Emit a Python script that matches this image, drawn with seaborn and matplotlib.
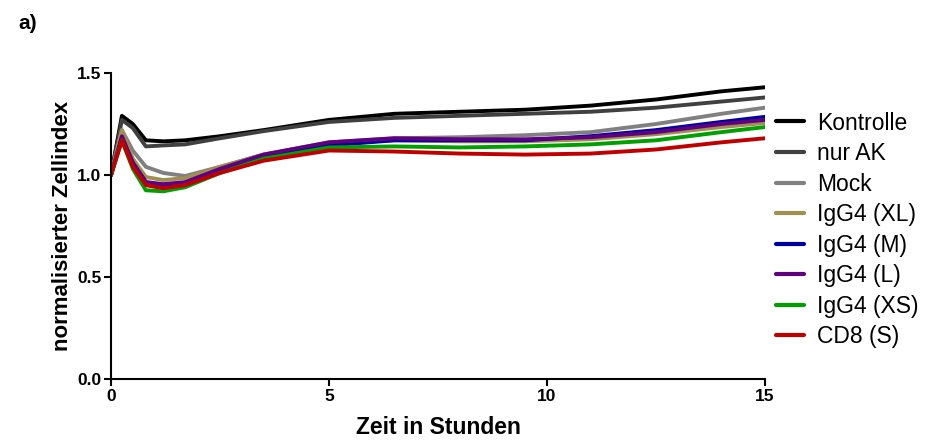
import numpy as np
import pandas as pd
import matplotlib
matplotlib.use("Agg")
import matplotlib.pyplot as plt
import seaborn as sns

time_h = [0, 0.25, 0.5, 0.8, 1.2, 1.7, 2.5, 3.5, 5, 6.5, 8, 9.5, 11, 12.5, 14, 15]

kontrolle = [1.0, 1.29, 1.25, 1.17, 1.165, 1.17, 1.19, 1.22, 1.27, 1.30, 1.31, 1.32, 1.34, 1.37, 1.41, 1.43]
nur_ak    = [1.0, 1.27, 1.23, 1.14, 1.145, 1.15, 1.18, 1.215, 1.26, 1.28, 1.29, 1.30, 1.31, 1.33, 1.36, 1.38]
mock      = [1.0, 1.22, 1.12, 1.04, 1.01, 0.995, 1.04, 1.10, 1.16, 1.18, 1.185, 1.195, 1.21, 1.25, 1.30, 1.33]
igg4_xl   = [1.0, 1.22, 1.08, 0.99, 0.975, 0.985, 1.04, 1.10, 1.155, 1.17, 1.165, 1.165, 1.175, 1.20, 1.235, 1.255]
igg4_m    = [1.0, 1.18, 1.06, 0.965, 0.95, 0.96, 1.02, 1.09, 1.145, 1.17, 1.17, 1.17, 1.19, 1.22, 1.26, 1.285]
igg4_l    = [1.0, 1.19, 1.06, 0.965, 0.955, 0.965, 1.03, 1.10, 1.16, 1.18, 1.175, 1.175, 1.185, 1.21, 1.25, 1.27]
igg4_xs   = [1.0, 1.17, 1.03, 0.925, 0.92, 0.94, 1.01, 1.08, 1.135, 1.14, 1.135, 1.14, 1.15, 1.17, 1.21, 1.235]
cd8_s     = [1.0, 1.17, 1.04, 0.95, 0.935, 0.95, 1.01, 1.07, 1.12, 1.115, 1.105, 1.10, 1.105, 1.125, 1.16, 1.18]

series_names = ["Kontrolle", "nur AK", "Mock", "IgG4 (XL)", "IgG4 (M)", "IgG4 (L)", "IgG4 (XS)", "CD8 (S)"]
series_values = [kontrolle, nur_ak, mock, igg4_xl, igg4_m, igg4_l, igg4_xs, cd8_s]
colors = ["#000000", "#404040", "#808080", "#A0904F", "#0000A0", "#600080", "#00A000", "#C00000"]

x_ticks = [0, 5, 10, 15]
y_ticks = [0.0, 0.5, 1.0, 1.5]

rows = []
for name, vals in zip(series_names, series_values):
    for t, v in zip(time_h, vals):
        rows.append({"Zeit": t, "Wert": v, "Gruppe": name})
df = pd.DataFrame(rows)

sns.set_style("ticks")
plt.rcParams["font.family"] = ["Liberation Sans", "DejaVu Sans"]
plt.rcParams["text.color"] = "black"
plt.rcParams["axes.labelcolor"] = "black"
plt.rcParams["xtick.color"] = "black"
plt.rcParams["ytick.color"] = "black"
plt.rcParams["axes.edgecolor"] = "black"

fig = plt.figure(figsize=(9.36, 4.45), dpi=100)
ax = fig.add_axes([0.1186, 0.1483, 0.6987, 0.6877])

sns.lineplot(data=df, x="Zeit", y="Wert", hue="Gruppe", hue_order=series_names,
             palette=dict(zip(series_names, colors)), linewidth=2.8, ax=ax, legend=True)

ax.set_xlim(0, 15)
ax.set_ylim(0, 1.5)
ax.set_xticks(x_ticks)
ax.set_xticklabels([str(t) for t in x_ticks], fontweight="bold", fontsize=12.5)
ax.set_yticks(y_ticks)
ax.set_yticklabels([f"{t:.1f}" for t in y_ticks], fontweight="bold", fontsize=12.5)
ax.set_xlabel("Zeit in Stunden", fontweight="bold", fontsize=16.5, labelpad=9)
ax.set_ylabel("normalisierter Zellindex", fontweight="bold", fontsize=16, labelpad=3)
for s in ["top", "right"]:
    ax.spines[s].set_visible(False)
for s in ["left", "bottom"]:
    ax.spines[s].set_linewidth(1.5)
ax.tick_params(axis="both", width=1.5, length=5, direction="out", pad=2)

leg = ax.legend(loc="center left", bbox_to_anchor=(1.003, 0.487), frameon=False,
                borderaxespad=0.0, fontsize=16.5, handlelength=1.2,
                labelspacing=0.33, handletextpad=0.6)
for line in leg.get_lines():
    line.set_linewidth(3)

fig.text(0.02, 0.935, "a)", fontsize=15, fontweight="bold")

fig.savefig("out.png", dpi=100)
